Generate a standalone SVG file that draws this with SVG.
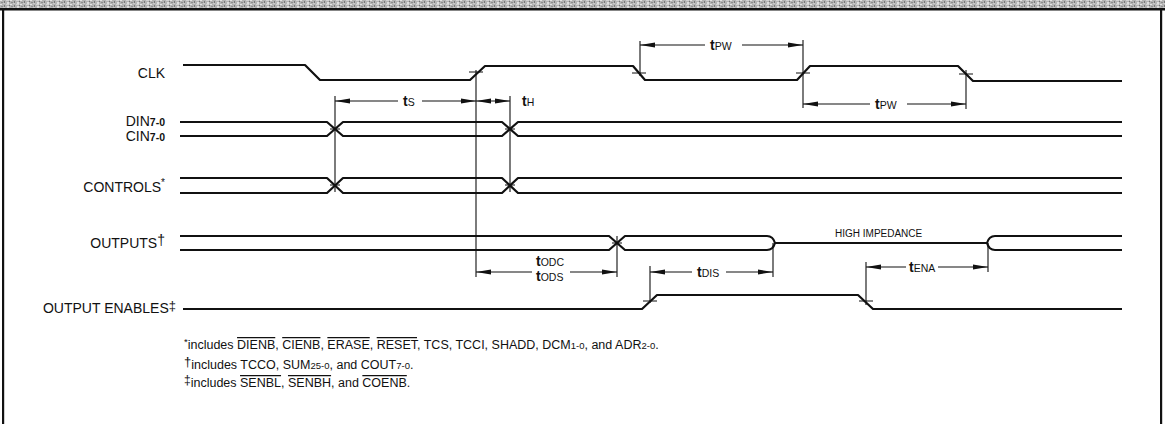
<svg xmlns="http://www.w3.org/2000/svg" width="1165" height="424" viewBox="0 0 1165 424">
<style>
.sig{fill:none;stroke:#111;stroke-width:2.2;stroke-linejoin:round}
.ext{fill:none;stroke:#111;stroke-width:1.1}
.arr{fill:none;stroke:#111;stroke-width:1.1}
.arrh{fill:none;stroke:#111;stroke-width:1.1;marker-start:url(#ah);marker-end:url(#ah)}
.lbl{font-family:"Liberation Sans",Arial,sans-serif;font-size:14px;fill:#111}
.sub{font-size:10.5px;font-weight:bold}
.tm{font-family:"Liberation Sans",Arial,sans-serif;font-size:14px;font-weight:bold;fill:#111}
.tms{font-size:10.5px;font-weight:normal}
.hz{font-family:"Liberation Sans",Arial,sans-serif;font-size:10px;fill:#111}
.fn{font-family:"Liberation Sans",Arial,sans-serif;font-size:12.5px;fill:#111}
.fs{font-size:9.5px}
.ov{text-decoration:overline}
</style>
<defs>
<marker id="ah" markerWidth="15" markerHeight="6" refX="15" refY="3" orient="auto-start-reverse" markerUnits="userSpaceOnUse"><path d="M0,0.6 L15,3 L0,5.4 z" fill="#111"/></marker>
<pattern id="noise" width="10" height="4" patternUnits="userSpaceOnUse">
<rect width="10" height="4" fill="#b4b4b4"/>
<rect x="0" y="0" width="2" height="1" fill="#e2e2e2"/>
<rect x="4" y="1" width="1" height="2" fill="#7a7a7a"/>
<rect x="6" y="0" width="3" height="1" fill="#d2d2d2"/>
<rect x="1" y="2" width="2" height="1" fill="#8e8e8e"/>
<rect x="7" y="2" width="2" height="2" fill="#dedede"/>
<rect x="3" y="3" width="2" height="1" fill="#c8c8c8"/>
<rect x="9" y="1" width="1" height="1" fill="#747474"/>
</pattern>
</defs>
<rect width="1165" height="424" fill="#fff"/>
<g id="frame">
<rect x="0" y="0" width="1165" height="8" fill="url(#noise)"/>
<rect x="0" y="8" width="1165" height="2.5" fill="#111"/>
<rect x="2" y="8" width="2.2" height="416" fill="#111"/>
<rect x="1160" y="8" width="2.2" height="416" fill="#111"/>
</g>
<g id="labels">
<text class="lbl" x="165" y="78" text-anchor="end">CLK</text>
<text class="lbl" x="165" y="126" text-anchor="end">DIN<tspan class="sub">7-0</tspan></text>
<text class="lbl" x="165" y="141" text-anchor="end">CIN<tspan class="sub">7-0</tspan></text>
<text class="lbl" x="165" y="192" text-anchor="end">CONTROLS<tspan font-size="10px" dy="-6">*</tspan></text>
<text class="lbl" x="165" y="248" text-anchor="end">OUTPUTS<tspan font-size="14px" dy="-3">†</tspan></text>
<text class="lbl" x="176" y="313" text-anchor="end">OUTPUT ENABLES<tspan font-size="13px" dy="-3">‡</tspan></text>
</g>
<g id="clk">
<path class="sig" d="M183,65 H305 L320,80 H470 L485,66 H633 L645,80 H797 L810,66 H958 L973,81 H1122"/>
</g>
<g id="din-cin">
<path class="sig" d="M180,122 H327 L343,136 H502 L518,122 H1122"/>
<path class="sig" d="M180,136 H327 L343,122 H502 L518,136 H1122"/>
</g>
<g id="controls">
<path class="sig" d="M180,178 H327 L343,193 H502 L518,178 H1122"/>
<path class="sig" d="M180,193 H327 L343,178 H502 L518,193 H1122"/>
</g>
<g id="outputs">
<path class="sig" d="M180,236 H609 L625,250 H767 Q773,250 775,243"/>
<path class="sig" d="M180,250 H609 L625,236 H767 Q773,236 775,243"/>
<path class="sig" d="M775,243 H987"/>
<path class="sig" d="M987,243 Q989,236 995,236 H1122"/>
<path class="sig" d="M987,243 Q989,250 995,250 H1122"/>
<text class="hz" x="835" y="237">HIGH IMPEDANCE</text>
</g>
<g id="output-enables">
<path class="sig" d="M183,309 H642 L657,295 H858 L873,309 H1122"/>
</g>
<g id="connectors">
<path class="ext" d="M335,96 V192 M476,70 V277 M510,96 V192 M640,41 V76 M803,40 V108 M966,70 V109 M617,236 V277 M650,266 V303 M773,243 V277 M866,262 V305 M988,243 V272"/>
<path class="ext" d="M469,72 H483 M632,73 H646 M796,73 H810 M959,74 H973 M643,301 H657 M859,301 H873 M330,129 H340 M505,129 H515 M330,185 H340 M505,185 H515 M612,243 H622"/>
<path class="arr" d="M335,101 H398" marker-start="url(#ah)"/>
<path class="arr" d="M422,101 H476" marker-end="url(#ah)"/>
<path class="arrh" d="M476,101 H510"/>
<path class="arr" d="M640,45 H705" marker-start="url(#ah)"/>
<path class="arr" d="M742,45 H803" marker-end="url(#ah)"/>
<path class="arr" d="M803,104 H870" marker-start="url(#ah)"/>
<path class="arr" d="M907,104 H966" marker-end="url(#ah)"/>
<path class="arr" d="M476,272 H532" marker-start="url(#ah)"/>
<path class="arr" d="M570,272 H617" marker-end="url(#ah)"/>
<path class="arr" d="M650,272 H692" marker-start="url(#ah)"/>
<path class="arr" d="M726,272 H773" marker-end="url(#ah)"/>
<path class="arr" d="M866,267 H906" marker-start="url(#ah)"/>
<path class="arr" d="M938,267 H988" marker-end="url(#ah)"/>
</g>
<g id="timing-labels">
<text class="tm" x="403" y="106">t<tspan class="tms">S</tspan></text>
<text class="tm" x="522" y="106">t<tspan class="tms">H</tspan></text>
<text class="tm" x="710" y="50">t<tspan class="tms">PW</tspan></text>
<text class="tm" x="875" y="109">t<tspan class="tms">PW</tspan></text>
<text class="tm" x="536" y="266" font-size="13px">t<tspan class="tms">ODC</tspan></text>
<text class="tm" x="536" y="281" font-size="13px">t<tspan class="tms">ODS</tspan></text>
<text class="tm" x="697" y="277">t<tspan class="tms">DIS</tspan></text>
<text class="tm" x="909" y="272">t<tspan class="tms">ENA</tspan></text>
</g>
<g id="footnotes">
<text class="fn" x="184" y="349"><tspan class="fs" dy="-4">*</tspan><tspan dy="4">includes </tspan><tspan class="ov">DIENB</tspan>, <tspan class="ov">CIENB</tspan>, <tspan class="ov">ERASE</tspan>, <tspan class="ov">RESET</tspan>, TCS, TCCI, SHADD, DCM<tspan class="fs">1-0</tspan>, and ADR<tspan class="fs">2-0</tspan>.</text>
<text class="fn" x="184" y="369"><tspan font-size="13px" dy="-3">†</tspan><tspan dy="3">includes TCCO, SUM</tspan><tspan class="fs">25-0</tspan>, and COUT<tspan class="fs">7-0</tspan>.</text>
<text class="fn" x="184" y="387"><tspan font-size="12px" dy="-3">‡</tspan><tspan dy="3">includes </tspan><tspan class="ov">SENBL</tspan>, <tspan class="ov">SENBH</tspan>, and <tspan class="ov">COENB</tspan>.</text>
</g>
</svg>
